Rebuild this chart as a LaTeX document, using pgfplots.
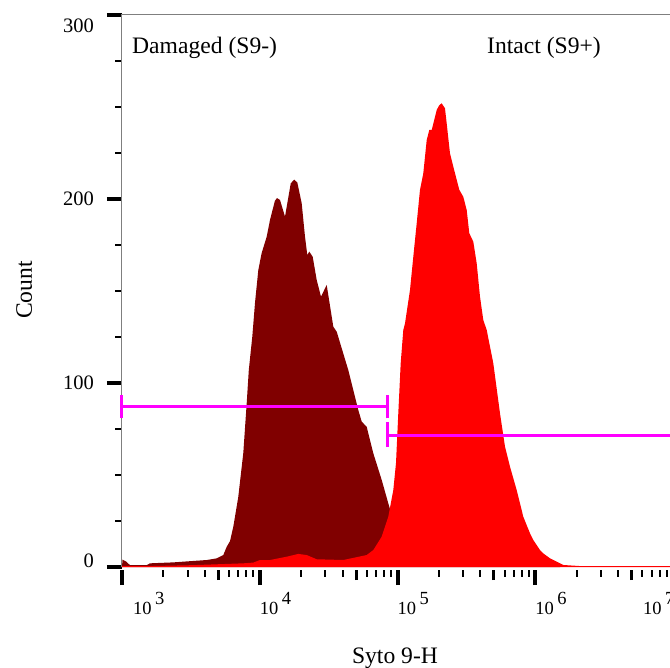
\documentclass[border=0pt]{standalone}
\usepackage{pgfplots}
\usepackage{pgfplotstable}
\pgfplotsset{compat=1.18}
\usepackage{fontspec}
\setmainfont{Liberation Serif}
\definecolor{dmg}{HTML}{800000}
\definecolor{intact}{HTML}{FF0000}
\definecolor{gate}{HTML}{FF00FF}
\definecolor{frame}{HTML}{7F7F7F}

% x = log10(Syto 9-H), y = count
\pgfplotstableread{
x y
3.0000 0
3.0036 4
3.0290 3
3.0581 1
3.1793 1
3.2033 2
3.3702 2.5
3.6149 3.8
3.6875 4.7
3.7354 6.5
3.7601 11
3.7840 14
3.8080 21.9
3.8443 38.2
3.8806 62
3.9053 89
3.9205 107
3.9459 125.2
3.9655 143.5
3.9895 161.4
4.0142 170.7
4.0505 179.5
4.0744 188.6
4.1100 199
4.1250 200.5
4.1470 199.5
4.1833 190.4
4.2250 208.5
4.2500 210.5
4.2726 209
4.3045 197.7
4.3285 179.5
4.3452 169.6
4.3597 171.4
4.3844 168.6
4.4134 156
4.4446 146.9
4.4860 153.3
4.5339 130.6
4.5586 127.9
4.6428 107
4.6791 96.2
4.7154 85.3
4.7401 79
4.7764 76.2
4.8243 61.8
4.8853 47.3
4.9332 34.6
4.9819 22
5.0545 10
5.1633 4
5.3811 1
5.7441 0.5
6.1797 0
}\damaged

\pgfplotstableread{
x y
3.0000 0.5
3.2033 0.5
3.5154 1
3.8806 2
3.9532 2.4
4.0018 3.8
4.0744 3.8
4.1956 5.6
4.2799 7.1
4.3408 6.5
4.4134 4.2
4.6065 3.8
4.7764 6.5
4.8243 9.2
4.8853 16.5
4.9332 27.3
4.9695 41.8
4.9891 56.4
5.0058 83.5
5.0232 110.7
5.0421 128.8
5.0545 132.4
5.0907 150.5
5.1147 168.6
5.1394 186.8
5.1633 205
5.1873 214
5.2120 232
5.2309 237.5
5.2483 237.5
5.2599 241
5.2846 248.4
5.3035 251
5.3209 252
5.3448 249.3
5.3572 241
5.3811 224.8
5.4174 214
5.4486 205
5.4777 201.2
5.5024 194
5.5212 181.4
5.5503 176.8
5.5750 165
5.5989 146.9
5.6229 134.2
5.6476 128.8
5.6955 110.7
5.7441 83.5
5.7804 65.4
5.8167 54.5
5.8653 41.8
5.9133 27.3
5.9619 18.3
5.9858 14.7
6.0345 9.2
6.0584 7.4
6.1071 4.7
6.1310 3.8
6.2036 1.1
6.3249 0.5
7.2000 0.5
}\intact

\newcommand{\pw}[1]{10\hspace{3.5bp}\raisebox{10bp}{#1}}

\begin{document}
\begin{tikzpicture}
\clip (-122bp,-101bp) rectangle (548bp,567bp);
\begin{axis}[
  at={(0,0)}, anchor=south west, scale only axis,
  width=578.55bp, height=552bp,
  xmin=3, xmax=7.2, ymin=0, ymax=300,
  enlargelimits=false, clip=false,
  axis line style={draw=none},
  tick align=outside,
  xtick pos=bottom, ytick pos=left,
  major tick length=15bp, minor tick length=6.5bp,
  major tick style={line width=4bp, black},
  minor tick style={line width=2bp, black},
  every x tick/.append style={yshift=-3bp},
  xtick={3,4,5,6,7},
  xticklabels={\hspace*{11bp}\pw{3},\pw{4},\pw{5},\pw{6},\hspace*{-30bp}\pw{7}},
  xticklabel style={font=\fontsize{18.5bp}{21bp}\selectfont, anchor=north west, inner sep=0pt, yshift=-10bp},
  minor xtick={3.30103,3.47712,3.60206,3.77815,3.84510,3.90309,3.95424,
               4.30103,4.47712,4.60206,4.77815,4.84510,4.90309,4.95424,
               5.30103,5.47712,5.60206,5.77815,5.84510,5.90309,5.95424,
               6.30103,6.47712,6.60206,6.77815,6.84510,6.90309,6.95424},
  extra x ticks={3.69897,4.69897,5.69897,6.69897},
  extra x tick labels={},
  extra x tick style={major tick length=10bp, major tick style={line width=3bp, black}},
  ytick={0,100,200,300},
  yticklabels={\raisebox{6bp}[\height][\depth]{0},100,200,\raisebox{-11bp}[\height][\depth]{300}},
  minor ytick={25,50,75,125,150,175,225,250,275},
  yticklabel style={font=\fontsize{20.5bp}{23bp}\selectfont, anchor=east, inner sep=0pt, xshift=-13bp},
]
\draw[frame, line width=1bp] (axis cs:3,0) -- (axis cs:3,300) -- (axis cs:7.2,300);
\addplot[draw=none, fill=dmg] table {\damaged} \closedcycle;
\addplot[draw=none, fill=intact] table {\intact} \closedcycle;
\addplot[gate, line width=3bp] coordinates {(3,87) (4.931,87)};
\addplot[gate, line width=3bp] coordinates {(3,80.8) (3,93.5)};
\addplot[gate, line width=3bp] coordinates {(4.931,80.8) (4.931,93.5)};
\addplot[gate, line width=3bp] coordinates {(4.931,71.7) (7.2,71.7)};
\addplot[gate, line width=3bp] coordinates {(4.931,65.2) (4.931,78.8)};
\end{axis}
\node[anchor=base west, inner sep=0pt, font=\fontsize{23.6bp}{28bp}\selectfont] at (10bp,513.7bp) {Damaged (S9-)};
\node[anchor=base west, inner sep=0pt, font=\fontsize{23.6bp}{28bp}\selectfont] at (365bp,513.7bp) {Intact (S9+)};
\node[anchor=base, inner sep=0pt, rotate=90, font=\fontsize{23.6bp}{28bp}\selectfont] at (-90bp,277bp) {Count};
\node[anchor=base, inner sep=0pt, font=\fontsize{23.6bp}{28bp}\selectfont] at (273bp,-96bp) {Syto 9-H};
\end{tikzpicture}
\end{document}
